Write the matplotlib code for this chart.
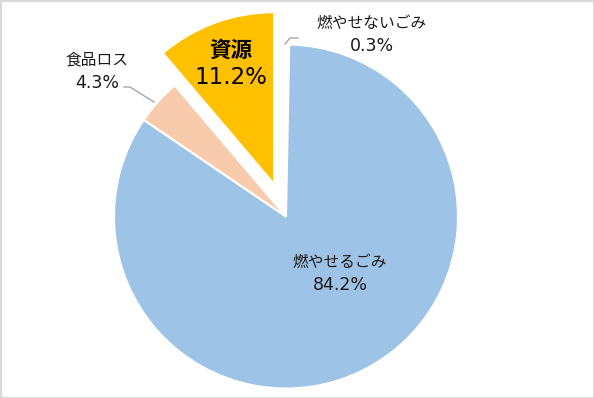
import matplotlib.pyplot as plt
from matplotlib.patches import Rectangle

plt.rcParams['font.family'] = ['Noto Sans CJK JP', 'DejaVu Sans']

# data (clockwise from 12 o'clock)
labels = ['燃やせないごみ', '燃やせるごみ', '食品ロス', '資源']
values = [0.3, 84.2, 4.3, 11.2]
colors = ['#FFFFFF', '#9DC3E6', '#F8CBAD', '#FFC000']
explode_frac = [0, 0, 0, 0.2]

fig = plt.figure(figsize=(5.94, 3.98), dpi=100)
ax = fig.add_axes([0, 0, 1, 1])

# pie in pixel coords (y up)
cx, cy, r = 286, 398 - 216.5, 172
# matplotlib applies explode in data units, so scale by radius
explode = [e * r for e in explode_frac]
ax.pie(values, colors=colors, explode=explode, startangle=90,
       counterclock=False, center=(cx, cy), radius=r,
       wedgeprops=dict(edgecolor='white', linewidth=1.5), frame=True)
ax.set_xlim(0, 594)
ax.set_ylim(0, 398)
ax.set_aspect('equal')
ax.axis('off')

def y(py):
    return 398 - py

txt = '#1a1a1a'
num = ['DejaVu Sans']
# 燃やせないごみ
ax.text(372, y(23), labels[0], ha='center', va='center', fontsize=11.3, color=txt)
ax.text(372, y(46), f'{values[0]}%', ha='center', va='center', fontsize=12.5,
        family=num, color=txt)
ax.plot([285, 290, 298], [y(44), y(38), y(38)], color='#a6a6a6', lw=1)

# 燃やせるごみ
ax.text(340, y(262), labels[1], ha='center', va='center', fontsize=11.3, color=txt)
ax.text(340, y(285), f'{values[1]}%', ha='center', va='center', fontsize=12.5,
        family=num, color=txt)

# 食品ロス
ax.text(97, y(60), labels[2], ha='center', va='center', fontsize=11.3, color=txt)
ax.text(97, y(83), f'{values[2]}%', ha='center', va='center', fontsize=12.5,
        family=num, color=txt)
ax.plot([124, 130, 154], [y(87), y(87), y(102)], color='#a6a6a6', lw=1)

# 資源
ax.text(231, y(50), labels[3], ha='center', va='center', fontsize=15.5,
        fontweight='bold', color='black')
ax.text(231, y(78), f'{values[3]}%', ha='center', va='center', fontsize=16.5,
        family=num, color='black')

# frame
fig.patches.append(Rectangle((0.5 / 594, 0.5 / 398), 1 - 1 / 594, 1 - 1 / 398,
                             transform=fig.transFigure, fill=False,
                             edgecolor='#d9d9d9', lw=1.5))

fig.savefig('out.png', dpi=100)
